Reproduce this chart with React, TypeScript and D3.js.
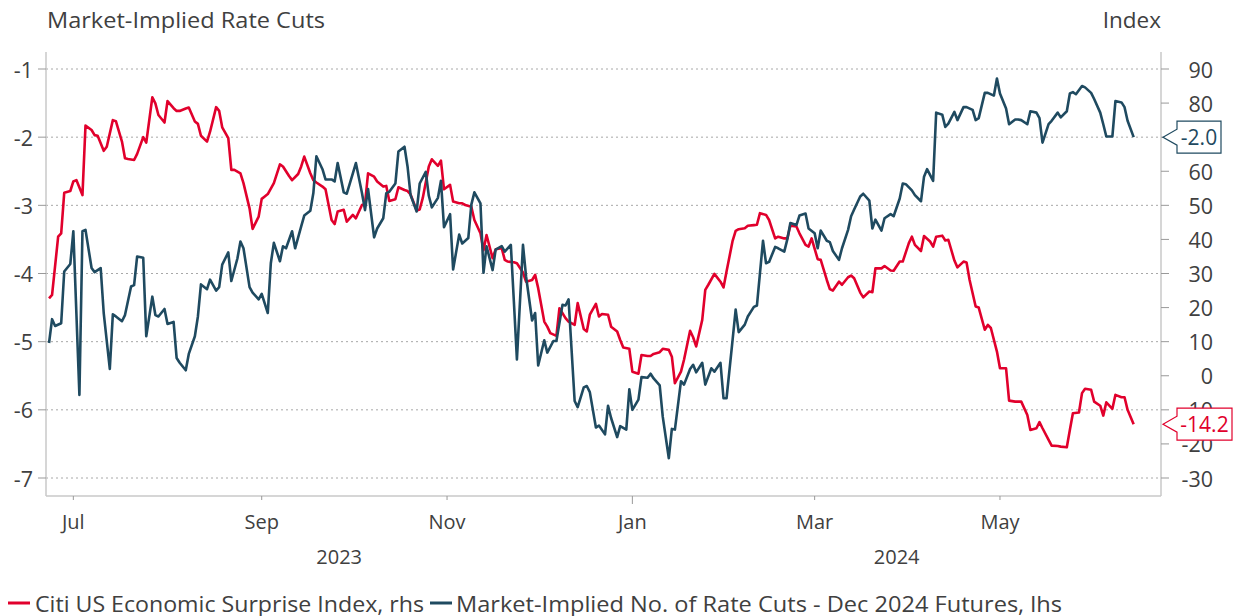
import React from "react";
import * as d3 from "d3";

const W = 1237;
const H = 616;

const titleLeft = "Market-Implied Rate Cuts";
const titleRight = "Index";
const legendLabels = [
  "Citi US Economic Surprise Index, rhs",
  "Market-Implied No. of Rate Cuts - Dec 2024 Futures, lhs",
];
const leftTicks = [-1, -2, -3, -4, -5, -6, -7];
const rightTicks = [90, 80, 70, 60, 50, 40, 30, 20, 10, 0, -10, -20, -30];
const monthTicks = ["2023-07-01", "2023-09-01", "2023-11-01", "2024-01-01", "2024-03-01", "2024-05-01"];
const monthLabels = ["Jul", "Sep", "Nov", "Jan", "Mar", "May"];
const yearLabels = ["2023", "2024"];
const yearBreak = "2024-01-01";

// Citi US Economic Surprise Index (rhs)
const citi: [string, number][] = [
  ["2023-06-23", 22.7], ["2023-06-24", 23.7], ["2023-06-26", 40.8], ["2023-06-27", 41.8], ["2023-06-28", 53.7],
  ["2023-06-30", 54.2], ["2023-07-01", 57.0], ["2023-07-02", 57.4], ["2023-07-04", 53.0], ["2023-07-05", 73.4],
  ["2023-07-07", 72.1], ["2023-07-08", 70.6], ["2023-07-09", 70.4], ["2023-07-11", 66.0], ["2023-07-12", 67.2],
  ["2023-07-14", 75.0], ["2023-07-15", 74.7], ["2023-07-17", 68.7], ["2023-07-18", 63.8], ["2023-07-19", 63.6],
  ["2023-07-21", 63.3], ["2023-07-22", 65.1], ["2023-07-24", 70.0], ["2023-07-25", 68.4], ["2023-07-27", 81.7],
  ["2023-07-28", 79.9], ["2023-07-29", 76.5], ["2023-07-31", 74.3], ["2023-08-01", 80.6], ["2023-08-03", 78.5],
  ["2023-08-04", 77.7], ["2023-08-05", 77.7], ["2023-08-07", 78.4], ["2023-08-08", 78.7], ["2023-08-10", 74.6],
  ["2023-08-11", 73.9], ["2023-08-12", 70.4], ["2023-08-14", 68.7], ["2023-08-15", 71.6], ["2023-08-17", 78.8],
  ["2023-08-18", 77.7], ["2023-08-19", 72.9], ["2023-08-21", 69.7], ["2023-08-22", 60.4], ["2023-08-23", 60.4],
  ["2023-08-25", 59.4], ["2023-08-26", 56.5], ["2023-08-28", 49.1], ["2023-08-29", 43.1], ["2023-08-31", 46.7],
  ["2023-09-01", 51.9], ["2023-09-02", 52.6], ["2023-09-03", 53.3], ["2023-09-05", 56.5], ["2023-09-07", 62.0],
  ["2023-09-08", 61.4], ["2023-09-10", 58.6], ["2023-09-11", 57.4], ["2023-09-13", 59.2], ["2023-09-14", 61.4],
  ["2023-09-15", 64.3], ["2023-09-17", 59.4], ["2023-09-18", 57.4], ["2023-09-19", 56.7], ["2023-09-21", 55.5],
  ["2023-09-22", 54.7], ["2023-09-24", 45.7], ["2023-09-25", 44.5], ["2023-09-26", 48.2], ["2023-09-28", 48.7],
  ["2023-09-29", 45.2], ["2023-10-01", 47.2], ["2023-10-02", 46.2], ["2023-10-04", 50.1], ["2023-10-05", 50.4],
  ["2023-10-06", 59.4], ["2023-10-08", 58.4], ["2023-10-09", 57.0], ["2023-10-11", 55.5], ["2023-10-12", 55.7],
  ["2023-10-13", 51.3], ["2023-10-15", 51.8], ["2023-10-16", 55.3], ["2023-10-18", 54.5], ["2023-10-19", 54.2],
  ["2023-10-20", 53.2], ["2023-10-22", 48.5], ["2023-10-23", 48.8], ["2023-10-24", 52.1], ["2023-10-26", 61.4],
  ["2023-10-27", 63.5], ["2023-10-29", 61.6], ["2023-10-30", 63.1], ["2023-10-31", 54.7], ["2023-11-02", 56.0],
  ["2023-11-03", 51.1], ["2023-11-05", 50.6], ["2023-11-06", 50.6], ["2023-11-07", 50.1], ["2023-11-09", 49.6],
  ["2023-11-10", 45.7], ["2023-11-12", 41.8], ["2023-11-13", 36.8], ["2023-11-14", 41.3], ["2023-11-16", 34.5],
  ["2023-11-17", 37.1], ["2023-11-19", 37.4], ["2023-11-20", 34.0], ["2023-11-21", 33.5], ["2023-11-23", 33.3],
  ["2023-11-24", 33.0], ["2023-11-26", 30.3], ["2023-11-27", 27.6], ["2023-11-29", 28.1], ["2023-11-30", 29.6],
  ["2023-12-01", 25.7], ["2023-12-03", 15.9], ["2023-12-04", 14.4], ["2023-12-05", 12.5], ["2023-12-07", 11.7],
  ["2023-12-08", 19.8], ["2023-12-10", 16.9], ["2023-12-11", 15.9], ["2023-12-13", 14.9], ["2023-12-14", 21.3],
  ["2023-12-16", 13.7], ["2023-12-17", 13.0], ["2023-12-18", 17.9], ["2023-12-20", 21.1], ["2023-12-21", 17.4],
  ["2023-12-22", 18.1], ["2023-12-24", 17.9], ["2023-12-25", 14.4], ["2023-12-27", 13.0], ["2023-12-28", 10.5],
  ["2023-12-29", 8.3], ["2023-12-31", 7.9], ["2024-01-01", 1.2], ["2024-01-03", 0.6], ["2024-01-04", 6.1],
  ["2024-01-06", 5.8], ["2024-01-07", 5.8], ["2024-01-08", 6.4], ["2024-01-10", 6.9], ["2024-01-11", 7.9],
  ["2024-01-13", 7.6], ["2024-01-14", 5.6], ["2024-01-15", -2.2], ["2024-01-17", 1.2], ["2024-01-18", 4.7],
  ["2024-01-20", 13.2], ["2024-01-21", 11.3], ["2024-01-22", 8.6], ["2024-01-24", 16.4], ["2024-01-25", 25.2],
  ["2024-01-26", 26.7], ["2024-01-28", 29.9], ["2024-01-30", 27.6], ["2024-01-31", 25.9], ["2024-02-01", 30.6],
  ["2024-02-03", 39.6], ["2024-02-04", 42.5], ["2024-02-05", 43.0], ["2024-02-07", 43.3], ["2024-02-08", 44.0],
  ["2024-02-10", 44.2], ["2024-02-11", 44.3], ["2024-02-12", 47.7], ["2024-02-14", 47.2], ["2024-02-15", 45.7],
  ["2024-02-17", 40.3], ["2024-02-18", 40.8], ["2024-02-20", 40.3], ["2024-02-21", 40.3], ["2024-02-22", 44.0],
  ["2024-02-24", 43.8], ["2024-02-25", 41.8], ["2024-02-27", 38.4], ["2024-02-28", 37.9], ["2024-02-29", 40.3],
  ["2024-03-02", 34.2], ["2024-03-03", 34.0], ["2024-03-05", 28.1], ["2024-03-06", 25.4], ["2024-03-07", 25.0],
  ["2024-03-09", 27.6], ["2024-03-10", 26.7], ["2024-03-12", 28.9], ["2024-03-13", 29.4], ["2024-03-14", 28.6],
  ["2024-03-16", 24.4], ["2024-03-17", 23.0], ["2024-03-19", 24.7], ["2024-03-20", 24.5], ["2024-03-21", 31.5],
  ["2024-03-23", 31.5], ["2024-03-24", 32.2], ["2024-03-26", 30.9], ["2024-03-27", 30.8], ["2024-03-29", 33.5],
  ["2024-03-30", 33.5], ["2024-04-01", 38.9], ["2024-04-02", 40.8], ["2024-04-03", 38.4], ["2024-04-05", 36.6],
  ["2024-04-06", 41.0], ["2024-04-08", 39.4], ["2024-04-09", 37.9], ["2024-04-10", 40.8], ["2024-04-12", 41.1],
  ["2024-04-13", 39.7], ["2024-04-14", 39.9], ["2024-04-16", 33.8], ["2024-04-17", 31.8], ["2024-04-19", 33.5],
  ["2024-04-20", 33.2], ["2024-04-21", 28.1], ["2024-04-23", 20.3], ["2024-04-24", 20.0], ["2024-04-26", 13.5],
  ["2024-04-27", 14.9], ["2024-04-28", 14.0], ["2024-04-30", 7.1], ["2024-05-01", 2.2], ["2024-05-03", 2.2],
  ["2024-05-04", -7.3], ["2024-05-06", -7.6], ["2024-05-07", -7.6], ["2024-05-08", -7.6], ["2024-05-10", -11.5],
  ["2024-05-11", -15.9], ["2024-05-13", -15.4], ["2024-05-14", -13.6], ["2024-05-15", -15.4], ["2024-05-17", -18.8],
  ["2024-05-18", -20.5], ["2024-05-20", -20.6], ["2024-05-21", -20.8], ["2024-05-23", -21.0], ["2024-05-24", -15.9],
  ["2024-05-25", -11.0], ["2024-05-27", -10.8], ["2024-05-28", -5.1], ["2024-05-29", -3.8], ["2024-05-31", -4.1],
  ["2024-06-01", -7.6], ["2024-06-03", -8.8], ["2024-06-04", -11.7], ["2024-06-05", -7.8], ["2024-06-07", -9.7],
  ["2024-06-08", -5.6], ["2024-06-10", -6.3], ["2024-06-11", -6.3], ["2024-06-12", -10.0], ["2024-06-14", -14.2],
];

// Market-implied number of rate cuts, Dec 2024 futures (lhs)
const cuts: [string, number][] = [
  ["2023-06-23", -5.02], ["2023-06-24", -4.67], ["2023-06-25", -4.77], ["2023-06-27", -4.73], ["2023-06-28", -3.97],
  ["2023-06-30", -3.86], ["2023-07-01", -3.38], ["2023-07-03", -5.78], ["2023-07-04", -3.38], ["2023-07-05", -3.36],
  ["2023-07-07", -3.92], ["2023-07-08", -3.98], ["2023-07-10", -3.92], ["2023-07-11", -4.58], ["2023-07-13", -5.40],
  ["2023-07-14", -4.60], ["2023-07-15", -4.63], ["2023-07-17", -4.70], ["2023-07-18", -4.61], ["2023-07-20", -4.19],
  ["2023-07-21", -4.17], ["2023-07-22", -3.75], ["2023-07-24", -3.77], ["2023-07-25", -4.92], ["2023-07-27", -4.34],
  ["2023-07-28", -4.61], ["2023-07-29", -4.63], ["2023-07-31", -4.52], ["2023-08-01", -4.74], ["2023-08-03", -4.71],
  ["2023-08-04", -5.24], ["2023-08-05", -5.31], ["2023-08-07", -5.42], ["2023-08-08", -5.18], ["2023-08-10", -4.92],
  ["2023-08-11", -4.63], ["2023-08-12", -4.16], ["2023-08-14", -4.23], ["2023-08-15", -4.09], ["2023-08-17", -4.25],
  ["2023-08-18", -4.20], ["2023-08-19", -3.87], ["2023-08-21", -3.69], ["2023-08-22", -4.11], ["2023-08-24", -3.78],
  ["2023-08-25", -3.53], ["2023-08-26", -3.63], ["2023-08-28", -4.20], ["2023-08-29", -4.28], ["2023-08-31", -4.38],
  ["2023-09-01", -4.30], ["2023-09-03", -4.58], ["2023-09-04", -3.85], ["2023-09-05", -3.55], ["2023-09-07", -3.82],
  ["2023-09-08", -3.60], ["2023-09-09", -3.63], ["2023-09-11", -3.38], ["2023-09-12", -3.63], ["2023-09-14", -3.31],
  ["2023-09-15", -3.15], ["2023-09-17", -3.08], ["2023-09-18", -2.82], ["2023-09-19", -2.28], ["2023-09-21", -2.47],
  ["2023-09-22", -2.62], ["2023-09-24", -2.62], ["2023-09-25", -2.65], ["2023-09-26", -2.38], ["2023-09-28", -2.81],
  ["2023-09-29", -2.83], ["2023-10-01", -2.53], ["2023-10-02", -2.38], ["2023-10-04", -2.82], ["2023-10-05", -3.07],
  ["2023-10-06", -2.76], ["2023-10-08", -3.47], ["2023-10-09", -3.34], ["2023-10-11", -3.19], ["2023-10-12", -2.82],
  ["2023-10-13", -2.80], ["2023-10-15", -2.68], ["2023-10-16", -2.21], ["2023-10-18", -2.14], ["2023-10-19", -2.43],
  ["2023-10-20", -2.85], ["2023-10-22", -3.09], ["2023-10-23", -2.68], ["2023-10-25", -2.51], ["2023-10-26", -2.86],
  ["2023-10-27", -3.03], ["2023-10-29", -2.89], ["2023-10-30", -2.64], ["2023-10-31", -3.32], ["2023-11-02", -3.13],
  ["2023-11-03", -3.94], ["2023-11-05", -3.43], ["2023-11-06", -3.56], ["2023-11-08", -3.48], ["2023-11-09", -2.99],
  ["2023-11-10", -2.81], ["2023-11-12", -2.97], ["2023-11-13", -3.99], ["2023-11-14", -3.60], ["2023-11-16", -3.95],
  ["2023-11-17", -3.65], ["2023-11-19", -3.60], ["2023-11-20", -3.68], ["2023-11-22", -3.58], ["2023-11-23", -4.41],
  ["2023-11-24", -5.26], ["2023-11-26", -3.58], ["2023-11-27", -4.04], ["2023-11-29", -4.69], ["2023-11-30", -4.58],
  ["2023-12-01", -5.35], ["2023-12-03", -4.98], ["2023-12-04", -5.16], ["2023-12-06", -4.99], ["2023-12-07", -4.99],
  ["2023-12-09", -4.46], ["2023-12-10", -4.47], ["2023-12-11", -4.38], ["2023-12-13", -5.87], ["2023-12-14", -5.96],
  ["2023-12-16", -5.67], ["2023-12-17", -5.65], ["2023-12-18", -5.74], ["2023-12-20", -6.26], ["2023-12-21", -6.23],
  ["2023-12-23", -6.36], ["2023-12-24", -5.94], ["2023-12-25", -6.12], ["2023-12-27", -6.40], ["2023-12-28", -6.24],
  ["2023-12-30", -6.29], ["2023-12-31", -5.70], ["2024-01-01", -6.00], ["2024-01-03", -5.85], ["2024-01-04", -5.52],
  ["2024-01-06", -5.53], ["2024-01-07", -5.47], ["2024-01-08", -5.54], ["2024-01-10", -5.64], ["2024-01-11", -6.10],
  ["2024-01-13", -6.71], ["2024-01-14", -6.28], ["2024-01-15", -6.29], ["2024-01-17", -5.58], ["2024-01-18", -5.63],
  ["2024-01-20", -5.40], ["2024-01-21", -5.34], ["2024-01-22", -5.45], ["2024-01-24", -5.31], ["2024-01-25", -5.63],
  ["2024-01-27", -5.39], ["2024-01-28", -5.44], ["2024-01-30", -5.31], ["2024-01-31", -5.83], ["2024-02-01", -5.83],
  ["2024-02-03", -4.97], ["2024-02-04", -4.53], ["2024-02-05", -4.86], ["2024-02-07", -4.75], ["2024-02-08", -4.63],
  ["2024-02-10", -4.49], ["2024-02-11", -4.47], ["2024-02-13", -3.52], ["2024-02-14", -3.85], ["2024-02-15", -3.83],
  ["2024-02-17", -3.61], ["2024-02-18", -3.63], ["2024-02-20", -3.68], ["2024-02-21", -3.50], ["2024-02-22", -3.26],
  ["2024-02-24", -3.29], ["2024-02-25", -3.15], ["2024-02-27", -3.12], ["2024-02-28", -3.34], ["2024-03-01", -3.41],
  ["2024-03-02", -3.63], ["2024-03-03", -3.37], ["2024-03-05", -3.52], ["2024-03-06", -3.54], ["2024-03-07", -3.67],
  ["2024-03-09", -3.80], ["2024-03-10", -3.63], ["2024-03-12", -3.36], ["2024-03-13", -3.16], ["2024-03-14", -3.06],
  ["2024-03-16", -2.87], ["2024-03-17", -2.83], ["2024-03-19", -2.93], ["2024-03-20", -3.34], ["2024-03-21", -3.21],
  ["2024-03-23", -3.37], ["2024-03-24", -3.19], ["2024-03-26", -3.13], ["2024-03-27", -3.16], ["2024-03-29", -2.90],
  ["2024-03-30", -2.68], ["2024-03-31", -2.69], ["2024-04-02", -2.78], ["2024-04-03", -2.85], ["2024-04-05", -2.94],
  ["2024-04-06", -2.58], ["2024-04-07", -2.47], ["2024-04-09", -2.64], ["2024-04-10", -1.64], ["2024-04-12", -1.67],
  ["2024-04-13", -1.85], ["2024-04-14", -1.80], ["2024-04-16", -1.63], ["2024-04-17", -1.75], ["2024-04-19", -1.56],
  ["2024-04-20", -1.56], ["2024-04-22", -1.60], ["2024-04-23", -1.75], ["2024-04-24", -1.72], ["2024-04-26", -1.35],
  ["2024-04-27", -1.35], ["2024-04-29", -1.39], ["2024-04-30", -1.14], ["2024-05-01", -1.36], ["2024-05-03", -1.58],
  ["2024-05-04", -1.81], ["2024-05-06", -1.74], ["2024-05-07", -1.74], ["2024-05-08", -1.75], ["2024-05-10", -1.81],
  ["2024-05-11", -1.62], ["2024-05-13", -1.64], ["2024-05-14", -1.72], ["2024-05-15", -2.08], ["2024-05-17", -1.81],
  ["2024-05-18", -1.76], ["2024-05-20", -1.64], ["2024-05-21", -1.71], ["2024-05-23", -1.62], ["2024-05-24", -1.36],
  ["2024-05-25", -1.34], ["2024-05-26", -1.37], ["2024-05-28", -1.25], ["2024-05-29", -1.27], ["2024-05-31", -1.35],
  ["2024-06-01", -1.44], ["2024-06-03", -1.64], ["2024-06-04", -1.81], ["2024-06-05", -1.99], ["2024-06-07", -1.99],
  ["2024-06-08", -1.47], ["2024-06-10", -1.49], ["2024-06-11", -1.56], ["2024-06-12", -1.76], ["2024-06-14", -2.00],
];

const RED = "#E1002C";
const BLUE = "#1F4A60";
const TEXT = "#404040";
const AXIS = "#c8c8c8";
const GRID = "#a8a8a8";
const FONT = "'Open Sans', 'Noto Sans', sans-serif";

const parse = d3.timeParse("%Y-%m-%d");

export default function App() {
  const left = 46, right = 1161, top = 52, bottom = 496;
  const x = d3.scaleTime()
    .domain([parse("2023-06-22") as Date, parse("2024-06-23") as Date])
    .range([left, right]);
  const yL = d3.scaleLinear().domain([-7, -1]).range([478, 69]);
  const yR = d3.scaleLinear().domain([-30, 90]).range([478, 69]);

  const citiPath = d3.line<[string, number]>()
    .x((d) => x(parse(d[0]) as Date))
    .y((d) => yR(d[1]))(citi) || "";
  const cutsPath = d3.line<[string, number]>()
    .x((d) => x(parse(d[0]) as Date))
    .y((d) => yL(d[1]))(cuts) || "";

  const lastCuts = cuts[cuts.length - 1][1];
  const lastCiti = citi[citi.length - 1][1];

  const callout = (yTip: number, w: number, color: string, label: string) => {
    const tipX = right + 2;
    const bx = 1177;
    const h = 32;
    const y0 = yTip - h / 2;
    const p = `M${tipX},${yTip} L${bx},${yTip - 8} L${bx},${y0} L${bx + w},${y0} L${bx + w},${y0 + h} L${bx},${y0 + h} L${bx},${yTip + 8} Z`;
    return (
      <g>
        <path d={p} fill="#fff" stroke={color} strokeWidth={1.2} />
        <text x={bx + w / 2} y={yTip} dominantBaseline="central" textAnchor="middle" fontSize={21} fill={color} fontFamily={FONT}>
          {label}
        </text>
      </g>
    );
  };

  const xBreak = x(parse(yearBreak) as Date);
  const yearPos = [(left + xBreak) / 2, (xBreak + right) / 2];

  return (
    <svg width={W} height={H} style={{ position: "absolute", left: 0, top: 0, background: "#fff" }}>
      {/* title */}
      <text x={47} y={28} fontSize={22.5} fill={TEXT} fontFamily={FONT} textLength={278} lengthAdjust="spacingAndGlyphs">{titleLeft}</text>
      <text x={right} y={28} fontSize={22.5} fill={TEXT} fontFamily={FONT} textAnchor="end">{titleRight}</text>

      {/* gridlines */}
      {leftTicks.map((t) => (
        <line key={"g" + t} x1={left} x2={right} y1={yL(t)} y2={yL(t)} stroke={GRID} strokeWidth={1} strokeDasharray="2,3" />
      ))}

      {/* frame */}
      <line x1={left} x2={left} y1={top} y2={bottom} stroke={AXIS} strokeWidth={1.5} />
      <line x1={right} x2={right} y1={top} y2={bottom} stroke={AXIS} strokeWidth={1.5} />
      <line x1={left} x2={right} y1={bottom} y2={bottom} stroke={AXIS} strokeWidth={1.5} />

      {/* left axis */}
      {leftTicks.map((t) => (
        <g key={"l" + t}>
          <line x1={left - 8} x2={left} y1={yL(t)} y2={yL(t)} stroke="#999" strokeWidth={1} />
          <text x={33} y={yL(t)} dominantBaseline="central" textAnchor="end" fontSize={21.5} fill={TEXT} fontFamily={FONT}>{String(t)}</text>
        </g>
      ))}

      {/* right axis */}
      {rightTicks.map((t) => (
        <g key={"r" + t}>
          <line x1={right} x2={right + 8} y1={yR(t)} y2={yR(t)} stroke="#999" strokeWidth={1} />
          <text x={1213} y={yR(t)} dominantBaseline="central" textAnchor="end" fontSize={21.5} fill={TEXT} fontFamily={FONT}>{String(t)}</text>
        </g>
      ))}

      {/* bottom axis */}
      {monthTicks.map((m, i) => {
        const xx = x(parse(m) as Date);
        const isYear = m === yearBreak;
        return (
          <g key={m}>
            <line x1={xx} x2={xx} y1={bottom} y2={bottom + (isYear ? 8 : 4)} stroke="#999" strokeWidth={1} />
            <text x={xx} y={521} dominantBaseline="central" textAnchor="middle" fontSize={20} fill={TEXT} fontFamily={FONT}>{monthLabels[i]}</text>
          </g>
        );
      })}
      {yearLabels.map((yl, i) => (
        <text key={yl} x={yearPos[i]} y={556} dominantBaseline="central" textAnchor="middle" fontSize={20} fill={TEXT} fontFamily={FONT}>{yl}</text>
      ))}

      {/* series */}
      <path d={citiPath} fill="none" stroke={RED} strokeWidth={2.6} strokeLinejoin="round" />
      <path d={cutsPath} fill="none" stroke={BLUE} strokeWidth={2.6} strokeLinejoin="round" />

      {/* end labels */}
      {callout(yL(lastCuts), 44, BLUE, lastCuts.toFixed(1))}
      {callout(yR(lastCiti), 55, RED, lastCiti.toFixed(1))}

      {/* legend */}
      <line x1={8} x2={30} y1={603} y2={603} stroke={RED} strokeWidth={3} />
      <text x={35} y={603} dominantBaseline="central" fontSize={21.5} fill={TEXT} fontFamily={FONT} textLength={389} lengthAdjust="spacingAndGlyphs">{legendLabels[0]}</text>
      <line x1={430} x2={452} y1={603} y2={603} stroke={BLUE} strokeWidth={3} />
      <text x={456} y={603} dominantBaseline="central" fontSize={21.5} fill={TEXT} fontFamily={FONT} textLength={606} lengthAdjust="spacingAndGlyphs">{legendLabels[1]}</text>
    </svg>
  );
}
